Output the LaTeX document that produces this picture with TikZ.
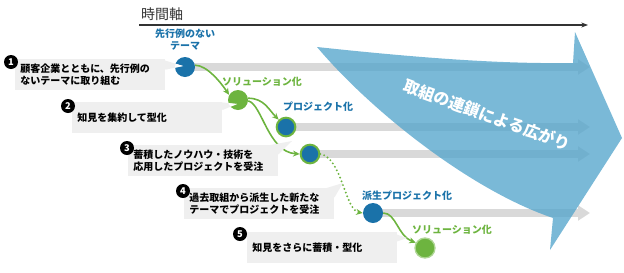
\documentclass[tikz,border=0pt]{standalone}
\usepackage{fontspec}
\setmainfont{Noto Sans CJK JP}
\usepackage{tikz}
\usetikzlibrary{arrows.meta,positioning,backgrounds}
\definecolor{teamblue}{HTML}{1A72A9}
\definecolor{flowgreen}{HTML}{6DB43F}
\definecolor{boxgray}{HTML}{EFEFEF}
\definecolor{lanegray}{HTML}{D9D9D9}
\definecolor{chainblue}{HTML}{55A5CC}
\definecolor{axisgray}{HTML}{333333}

\begin{document}
\begin{tikzpicture}[x=0.75pt,y=-0.75pt,
   callout/.style={fill=boxgray,anchor=north west,text width=105pt,inner xsep=3.75pt,
                   minimum height=23pt,align=left,font=\bfseries\fontsize{7.5}{9}\selectfont},
   badge/.style={circle,fill=black,text=white,minimum size=10.5pt,inner sep=0pt,
                 font=\bfseries\fontsize{7}{7}\selectfont},
   spot/.style={circle,minimum size=15pt,inner sep=0pt},
   ring/.style={spot,fill=teamblue,draw=flowgreen,line width=1.5pt,minimum size=14pt},
   lbl/.style={font=\bfseries\fontsize{7.5}{9}\selectfont,align=center},
   lane/.style={lanegray,line width=6pt,-{Triangle[length=9pt,width=11pt]}},
   flow/.style={flowgreen,line width=1.2pt,-{Stealth[length=5pt,width=4.5pt]}},
   flowdots/.style={line cap=round,dash pattern=on 0pt off 3pt,line width=1.6pt},
   ar/.style={-{Stealth[length=5pt]},line width=1.1pt,axisgray}]
  \useasboundingbox (0,0) rectangle (624,272);
  % time axis
  \coordinate (T0) at (139,25);
  \coordinate (T1) at (588,25);
  \draw[ar] (T0) -- (T1);
  \node[font=\fontsize{10.5}{12}\selectfont,text=axisgray] (tlabel) at (162,14) {時間軸};
  % circles
  \node[spot,fill=teamblue] (C1) at (185,67) {};
  \node[spot,fill=flowgreen] (C2) at (238,100) {};
  \node[ring] (C3) at (286,127) {};
  \node[ring] (C4) at (310,154) {};
  \node[spot,fill=teamblue] (C5) at (373,213) {};
  \node[spot,fill=flowgreen,draw=flowgreen!55!white,line width=1pt] (C6) at (425,248) {};
  % lanes and the chain arrow
  \coordinate (E1) at (590,67);
  \coordinate (E3) at (590,127);
  \coordinate (E4) at (590,154);
  \coordinate (E5) at (590,213);
  \begin{scope}[on background layer]
    \draw[lane] (C1.center) -- (E1);
    \draw[lane] (C3.center) -- (E3);
    \draw[lane] (C4.center) -- (E4);
    \draw[lane] (C5.center) -- (E5);
    \fill[chainblue,fill opacity=0.78] (317,47) .. controls (420,58) and (500,64) .. (573,63)
      -- (575,32) -- (622,138) -- (550,250) -- (553,218)
      .. controls (470,190) and (370,110) .. (317,47) -- cycle;
    \node[text=white,rotate=-20,font=\bfseries\fontsize{12}{12}\selectfont] (chain) at (487,115)
      {取組の連鎖による広がり};
  \end{scope}
  % connectors
  \draw[flow] (C1.10) .. controls +(12,0) and +(-8,-12) .. (C2.150);
  \draw[flow] (C2.10) .. controls +(16,0) and +(-10,-10) .. (C3.135);
  \draw[flow] (C2.-5) .. controls (262,104) and (268,152) .. (C4.west);
  \draw[flow,flowdots] (C4.east) .. controls (342,158) and (345,210) .. (C5.west);
  \draw[flow] (C5.east) .. controls (396,213) and (398,236) .. (C6.150);
  % callouts
  \node[callout] (B1) at (15,59) {顧客企業とともに、先行例の\\ないテーマに取り組む};
  \node[callout] (B2) at (72,102) {知見を集約して型化};
  \node[callout] (B3) at (128,145) {蓄積したノウハウ・技術を\\応用したプロジェクトを受注};
  \node[callout] (B4) at (184,188) {過去取組から派生した新たな\\テーマでプロジェクトを受注};
  \node[callout] (B5) at (247,232) {知見をさらに蓄積・型化};
  \coordinate (P1) at (183,66);
  \coordinate (P2) at (237,104);
  \coordinate (P3) at (292,141);
  \coordinate (P4) at (343,183);
  \coordinate (P5) at (407,238);
  \fill[boxgray] ([xshift=-4pt]B1.north east) -- (P1) -- ([yshift=-8pt]B1.north east) -- cycle;
  \fill[boxgray] ([xshift=-3pt]B2.north east) -- (P2) -- ([yshift=-6pt]B2.north east) -- cycle;
  \fill[boxgray] ([xshift=-6pt]B3.north east) -- (P3) -- ([yshift=-7pt]B3.north east) -- cycle;
  \fill[boxgray] ([xshift=-6pt]B4.north east) -- (P4) -- ([yshift=-7pt]B4.north east) -- cycle;
  \fill[boxgray] ([xshift=-6pt]B5.north east) -- (P5) -- ([yshift=-7pt]B5.north east) -- cycle;
  \begin{scope}
    \clip (C1.center) circle[radius=7.5pt];
    \fill[white] ([xshift=-4pt]B1.north east) -- (P1) -- ([yshift=-8pt]B1.north east) -- cycle;
  \end{scope}
  \begin{scope}
    \clip (C2.center) circle[radius=7.5pt];
    \fill[white] ([xshift=-3pt]B2.north east) -- (P2) -- ([yshift=-6pt]B2.north east) -- cycle;
  \end{scope}
  % badges
  \node[badge] (N1) at (11,62) {1};
  \node[badge] (N2) at (68,106) {2};
  \node[badge] (N3) at (127,148) {3};
  \node[badge] (N4) at (183,191) {4};
  \node[badge] (N5) at (240,234) {5};
  % labels
  \node[lbl,text=teamblue,above=1pt of C1] (L1) {先行例のない\\テーマ};
  \node[lbl,text=flowgreen] (L2) at (262,82) {ソリューション化};
  \node[lbl,text=teamblue] (L3) at (318,107) {プロジェクト化};
  \node[lbl,text=teamblue] (L5) at (407,196) {派生プロジェクト化};
  \node[lbl,text=flowgreen] (L6) at (452,230) {ソリューション化};
\end{tikzpicture}
\end{document}
